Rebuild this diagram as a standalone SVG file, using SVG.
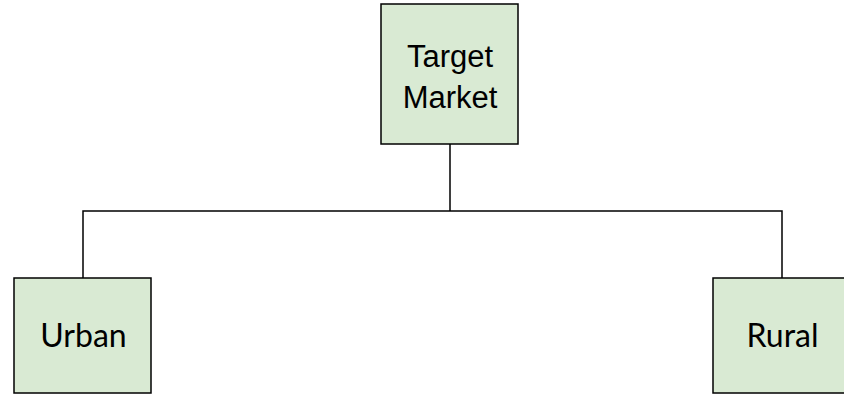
<svg xmlns="http://www.w3.org/2000/svg" width="844" height="395" viewBox="0 0 844 395">
<style>
.box{fill:#d9ead3;stroke:#000;stroke-width:1.5}
.t1{font-family:"Liberation Sans",Arial,sans-serif;font-size:31px;fill:#000;text-anchor:middle}
.t2{font-family:Lato,"Liberation Sans",sans-serif;font-size:32px;fill:#000;text-anchor:middle}
.c{fill:none;stroke:#000;stroke-width:1.5}
</style>
<rect width="844" height="395" fill="#fff"/>
<g id="connectors">
<path class="c" d="M450 144V211M83 278V211H782V278"/>
</g>
<g id="target">
<rect class="box" x="381" y="4" width="137" height="140"/>
<text class="t1" x="450" y="67">Target</text>
<text class="t1" x="450" y="108">Market</text>
</g>
<g id="urban">
<rect class="box" x="14" y="278" width="137" height="115"/>
<text class="t2" x="83.5" y="347">Urban</text>
</g>
<g id="rural">
<rect class="box" x="713" y="278" width="137" height="115"/>
<text class="t2" x="782.5" y="347">Rural</text>
</g>
</svg>
